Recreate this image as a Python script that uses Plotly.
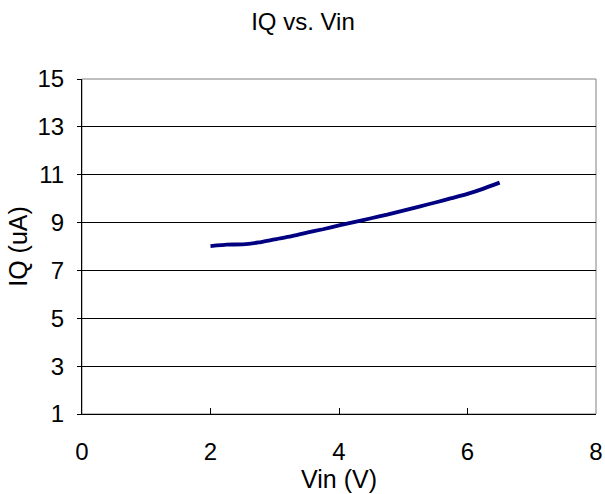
import plotly.graph_objects as go

vin = [2.0, 2.25, 2.5, 2.75, 3.0, 3.25, 3.5, 3.75, 4.0, 4.25, 4.5, 4.75, 5.0, 5.25, 5.5, 5.75, 6.0, 6.25, 6.5]
iq = [8.02, 8.08, 8.09, 8.17, 8.30, 8.42, 8.58, 8.72, 8.88, 9.03, 9.18, 9.33, 9.50, 9.67, 9.84, 10.02, 10.20, 10.42, 10.67]
x_ticks = [0, 2, 4, 6, 8]
y_ticks = [1, 3, 5, 7, 9, 11, 13, 15]

font = "Liberation Sans, Arial, sans-serif"
fig = go.Figure(go.Scatter(x=vin, y=iq, mode="lines",
                           line=dict(color="#000080", width=3.8, shape="spline", smoothing=0.4)))
fig.update_layout(
    width=605, height=494,
    margin=dict(l=82, r=9, t=79, b=80, autoexpand=False),
    paper_bgcolor="white", plot_bgcolor="white",
    showlegend=False,
    title=dict(text="IQ vs. Vin", x=303 / 605, xanchor="center", xref="container",
               y=1 - 22 / 494, yanchor="middle", yref="container",
               font=dict(family=font, size=24, color="black")),
    font=dict(family=font, color="black"),
)
fig.update_xaxes(range=[0, 8], tickvals=x_ticks, ticks="inside", ticklen=6, tickcolor="black",
                 showline=True, linecolor="black", linewidth=1, showgrid=False,
                 zeroline=False, tickfont=dict(size=24), ticklabelstandoff=16, automargin=False,
                 title=dict(text="Vin (V)", font=dict(size=25), standoff=1))
fig.update_yaxes(range=[1, 15], tickvals=y_ticks, ticks="outside", ticklen=4, tickcolor="black",
                 showline=True, linecolor="black", linewidth=1, showgrid=True, gridcolor="black",
                 gridwidth=1, zeroline=False, tickfont=dict(size=24), ticklabelstandoff=8,
                 automargin=False,
                 title=dict(text="IQ (uA)", font=dict(size=25), standoff=2))
fig.add_shape(type="rect", xref="paper", yref="paper", x0=0, y0=0, x1=1, y1=1,
              line=dict(color="#808080", width=1), layer="below")
fig.write_html("out.html", config={"displayModeBar": False},
               post_script="document.body.style.margin='0';document.body.style.overflow='hidden';")
